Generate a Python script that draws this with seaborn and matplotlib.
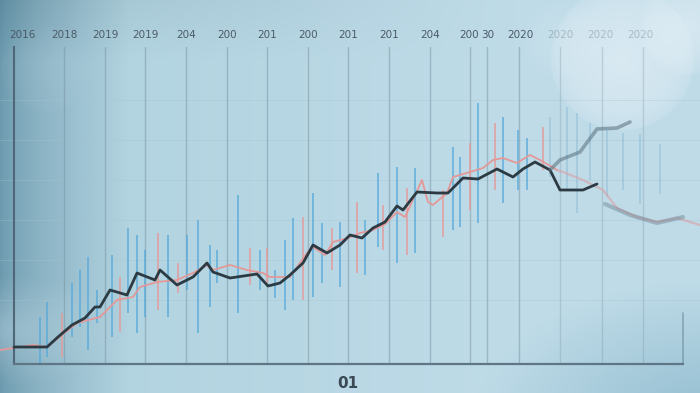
import numpy as np
import matplotlib
matplotlib.use("Agg")
import matplotlib.pyplot as plt
import seaborn as sns
import pandas as pd

sns.set_theme(style="white")
plt.rcParams['font.family'] = ['DejaVu Sans']

# ---------------- data ----------------
# main dark price line: day, level
main_day = [14, 30, 47, 58, 72, 85, 95, 100, 110, 127, 137, 155, 160, 177, 193, 207, 213, 230,
            257, 268, 280, 290, 303, 313, 327, 340, 350, 362, 373, 385, 397, 403, 417, 437, 448,
            463, 478, 497, 513, 523, 535, 550, 560, 583, 597]
main_lvl = [17, 17, 17, 27, 39, 46, 57, 57, 74, 69, 91, 84, 94, 79, 87, 101, 92, 86,
            90, 78, 81, 89, 101, 119, 111, 119, 129, 126, 136, 142, 158, 154, 172, 171, 171,
            186, 185, 195, 187, 195, 202, 194, 174, 174, 180]
# faded upper branch
up_day = [550, 560, 580, 597, 617, 630]
up_lvl = [194, 204, 212, 235, 236, 242]
# faded lower continuation
low_day = [605, 630, 657, 683]
low_lvl = [160, 149, 141, 147]

# pink moving-average line
ma_day = [0, 33, 47, 58, 77, 100, 117, 133, 140, 157, 177, 193, 207, 213, 230, 247, 263, 270,
          290, 307, 313, 325, 333, 348, 360, 373, 385, 397, 405, 422, 428, 433, 447, 453, 470,
          483, 493, 503, 517, 530, 540, 557, 563, 583, 603, 617, 637, 657, 677, 700]
ma_lvl = [14, 19, 17, 26, 41, 47, 64, 67, 77, 82, 84, 91, 99, 94, 99, 94, 91, 87,
          87, 111, 117, 109, 122, 126, 131, 134, 140, 152, 147, 184, 162, 159, 171, 187, 192,
          196, 204, 206, 201, 209, 204, 194, 192, 184, 174, 156, 147, 142, 146, 139]

# high-low range bars: day, low, high, colour group
bar_day = [40, 47, 62, 72, 80, 88, 97, 112, 120, 128, 137, 145, 158, 168, 178, 187, 198, 210,
           217, 238, 250, 260, 267, 275, 285, 293, 303, 313, 322, 332, 340, 357, 365, 378, 383,
           397, 407, 415, 443, 453, 460, 470, 478, 495, 503, 518, 527, 543]
bar_low = [1, 7, 7, 27, 37, 14, 41, 27, 32, 51, 31, 47, 54, 47, 71, 74, 31, 57,
           81, 51, 79, 74, 81, 66, 54, 64, 64, 67, 81, 94, 77, 91, 89, 117, 114,
           101, 109, 111, 127, 134, 137, 154, 141, 174, 161, 174, 174, 194]
bar_high = [47, 62, 51, 81, 94, 107, 74, 109, 87, 136, 129, 114, 131, 129, 101, 129, 144, 119,
            114, 169, 116, 114, 116, 94, 124, 146, 147, 171, 141, 136, 142, 162, 144, 191, 159,
            197, 176, 196, 174, 217, 207, 221, 261, 241, 247, 234, 226, 237]
bar_grp = ['b', 'b', 'p', 'b', 'b', 'b', 'b', 'b', 'p', 'b', 'b', 'b', 'p', 'b', 'p', 'b', 'b', 'b',
           'b', 'b', 'p', 'b', 'p', 'b', 'b', 'b', 'p', 'b', 'b', 'p', 'b', 'p', 'b', 'b', 'p',
           'b', 'p', 'b', 'p', 'b', 'b', 'p', 'b', 'p', 'b', 'b', 'b', 'p']
# faded bars on the right
fbar_day = [550, 567, 577, 590, 607, 623, 640, 660]
fbar_low = [187, 174, 151, 184, 167, 174, 160, 170]
fbar_high = [247, 257, 251, 241, 234, 231, 230, 220]

# top tick labels and grid positions
tick_pos = [22, 64, 105, 145, 186, 227, 267, 308, 348, 389, 430, 469, 488, 520, 560, 600, 640]
tick_lbl = ["2016", "2018", "2019", "2019", "204", "200", "201", "200", "201", "201", "204",
            "200", "30", "2020", "2020", "2020", "2020"]
grid_pos = [64, 105, 145, 186, 227, 267, 308, 348, 389, 430, 470, 487, 519, 560, 602, 643]

# ---------------- figure ----------------
W, H = 700, 393
fig = plt.figure(figsize=(7, 3.93), dpi=100)

# background gradient (decoration)
bg = fig.add_axes([0, 0, 1, 1])
xx, yy = np.meshgrid(np.arange(W), np.arange(H))
c_left = np.array([0.42, 0.60, 0.68])
c_mid = np.array([0.70, 0.83, 0.88])
c_right = np.array([0.75, 0.86, 0.91])
t1 = np.clip(xx / 130.0, 0, 1)[..., None] ** 0.7
t2 = np.clip((xx - 130) / 400.0, 0, 1)[..., None]
img = c_left * (1 - t1) + c_mid * t1
img = img * (1 - t2) + c_right * t2
# darker band at the very top
img = img - 0.06 * np.clip(1 - yy / 60.0, 0, 1)[..., None] * np.clip(1 - xx / 500.0, 0, 1)[..., None]
# darker bottom-right corner
d = np.sqrt(((xx - 720) * 0.8) ** 2 + ((yy - 420) * 1.4) ** 2)
g = np.clip(1 - d / 200, 0, 1) * 0.6
img = img * (1 - g[..., None]) + np.array([0.45, 0.66, 0.75]) * g[..., None]
# bokeh glow top-right
for cx, cy, r, a, p in [(622, 58, 72, 0.55, 0.35), (690, 25, 50, 0.5, 0.5),
                        (560, 40, 40, 0.15, 0.6), (45, 70, 45, 0.08, 0.6)]:
    d = np.sqrt((xx - cx) ** 2 + (yy - cy) ** 2)
    g = np.clip(1 - d / r, 0, 1) ** p * a
    img = img * (1 - g[..., None]) + np.array([0.93, 0.96, 0.98]) * g[..., None]
# bright haze bottom-left
d = np.sqrt((xx - 10) ** 2 + ((yy - 330) * 2.0) ** 2)
g = np.clip(1 - d / 110, 0, 1) * 0.35
img = img * (1 - g[..., None]) + np.array([0.82, 0.90, 0.94]) * g[..., None]
bg.imshow(np.clip(img, 0, 1), aspect='auto', extent=[0, W, H, 0])
bg.set_xlim(0, W); bg.set_ylim(H, 0)
bg.axis('off')

ax = fig.add_axes([0, (H - 364) / H, 1, (364 - 47) / H])
ax.patch.set_alpha(0)
ax.set_xlim(0, W)
ax.set_ylim(0, 317)

# horizontal faint grid
for yv in [64, 104, 144, 184, 224, 264]:
    ax.axhline(yv, color='#a6c3d1', lw=0.7, alpha=0.35, zorder=0)
# vertical grid
for gx in grid_pos:
    a = 0.5 if gx < 560 else 0.3
    ax.axvline(gx, color='#7893a3', lw=1.0, alpha=a, zorder=0)
# right frame stub
ax.axvline(683, ymin=0, ymax=51 / 317, color='#6a8696', lw=1.2, alpha=0.6, zorder=0)

# range bars
bars = pd.DataFrame(dict(day=bar_day, low=bar_low, high=bar_high, grp=bar_grp))
for grp, col, al in [('b', '#56a9da', 0.7), ('p', '#e59a9a', 0.75)]:
    sub = bars[bars.grp == grp]
    ax.vlines(sub.day, sub.low, sub.high, color=col, lw=1.4, alpha=al, zorder=1)
ax.vlines(fbar_day, fbar_low, fbar_high, color='#6aa6c6', lw=1.4, alpha=0.3, zorder=1)

# lines
ma = pd.DataFrame(dict(day=ma_day, lvl=ma_lvl))
sns.lineplot(data=ma[ma.day <= 560], x='day', y='lvl', ax=ax, color='#e49898', lw=1.3,
             estimator=None, sort=False, zorder=2)
sns.lineplot(data=ma[ma.day >= 557], x='day', y='lvl', ax=ax, color='#d9a0a5', lw=1.6, alpha=0.6,
             estimator=None, sort=False, zorder=2)
main = pd.DataFrame(dict(day=main_day, lvl=main_lvl))
sns.lineplot(data=main, x='day', y='lvl', ax=ax, color='#2c3a43', lw=2.0,
             estimator=None, sort=False, zorder=3)
sns.lineplot(x=up_day, y=up_lvl, ax=ax, color='#5a707d', lw=2.6, alpha=0.55,
             estimator=None, sort=False, zorder=3)
sns.lineplot(x=low_day, y=low_lvl, ax=ax, color='#6b8493', lw=3.0, alpha=0.45,
             estimator=None, sort=False, zorder=3)

# spines
for s in ['top', 'right']:
    ax.spines[s].set_visible(False)
ax.spines['left'].set_position(('data', 14))
ax.spines['left'].set_color('#4f6777')
ax.spines['left'].set_linewidth(1.5)
ax.spines['bottom'].set_color('#5e7686')
ax.spines['bottom'].set_linewidth(1.6)
ax.spines['bottom'].set_bounds(14, 683)
ax.set_yticks([])
ax.set_xlabel('')
ax.set_ylabel('')

# top labels
ax.xaxis.set_ticks_position('top')
ax.set_xticks(tick_pos)
ax.set_xticklabels(tick_lbl)
ax.tick_params(axis='x', top=False, bottom=False, labeltop=True, labelbottom=False,
               length=0, pad=5, labelsize=7.5, labelcolor='#4a5b66')
for lab, xp in zip(ax.get_xticklabels(), tick_pos):
    if xp >= 560:
        lab.set_alpha(0.3)

fig.text(348 / W, 1 - 383 / H, "01", ha='center', va='center', fontsize=11,
         fontweight='bold', color='#3b4955')

fig.savefig('out.png', dpi=100)
